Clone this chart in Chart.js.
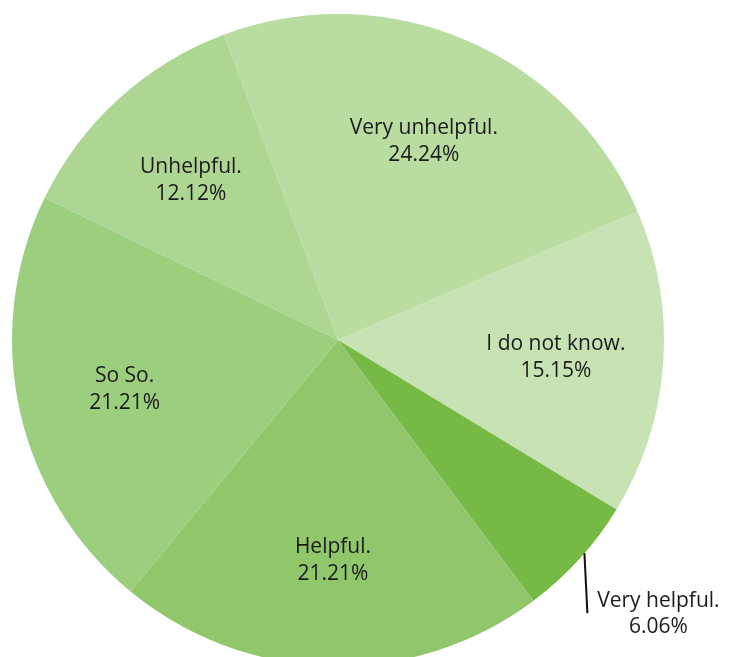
<!DOCTYPE html>
<html>
<head>
<meta charset="utf-8">
<script src="https://cdn.jsdelivr.net/npm/chart.js@4.4.1/dist/chart.umd.min.js"></script>
<style>
  html, body { margin: 0; padding: 0; background: #fff; overflow: hidden; }
</style>
</head>
<body>
<canvas id="pieChart" width="737" height="680"></canvas>
<script>
const labels = ["Very unhelpful.", "I do not know.", "Very helpful.", "Helpful.", "So So.", "Unhelpful."];
const percents = [24.24, 15.15, 6.06, 21.21, 21.21, 12.12];
const colors = ["#b9dca0", "#c7e3b4", "#76b944", "#91c76b", "#9ccf7d", "#aed693"];

const sliceLabels = {
    id: "sliceLabels",
    afterDatasetsDraw(chart) {
        const ctx = chart.ctx;
        const arcs = chart.getDatasetMeta(0).data;
        ctx.save();
        ctx.font = "500 21px 'Open Sans'";
        ctx.fillStyle = "#1b1b1b";
        ctx.textAlign = "center";
        ctx.textBaseline = "middle";
        arcs.forEach((arc, i) => {
            const p = arc.getProps(["x", "y", "startAngle", "endAngle", "outerRadius"], true);
            const mid = (p.startAngle + p.endAngle) / 2;
            const pct = percents[i].toFixed(2) + "%";
            if (percents[i] < 10) {
                // small slice: label outside with a short leader line
                const ex = p.x + Math.cos(mid) * p.outerRadius;
                const ey = p.y + Math.sin(mid) * p.outerRadius;
                ctx.strokeStyle = "#111";
                ctx.lineWidth = 2;
                ctx.beginPath();
                ctx.moveTo(ex + 5, ey - 6);
                ctx.lineTo(ex + 8, ey + 54);
                ctx.stroke();
                ctx.fillText(labels[i], ex + 79, ey + 42);
                ctx.fillText(pct, ex + 79, ey + 68);
            } else {
                const lx = p.x + Math.cos(mid) * p.outerRadius * 0.67;
                const ly = p.y + Math.sin(mid) * p.outerRadius * 0.67;
                ctx.fillText(labels[i], lx, ly - 11);
                ctx.fillText(pct, lx, ly + 16);
            }
        });
        ctx.restore();
    }
};

new Chart(document.getElementById("pieChart"), {
    type: "pie",
    data: {
        labels: labels,
        datasets: [{
            data: percents,
            backgroundColor: colors,
            borderWidth: 0
        }]
    },
    options: {
        responsive: false,
        animation: false,
        rotation: -20.5,
        layout: { padding: { left: 12, top: 14, right: 73, bottom: 14 } },
        plugins: {
            legend: { display: false },
            tooltip: { enabled: false }
        }
    },
    plugins: [sliceLabels]
});
</script>
</body>
</html>
